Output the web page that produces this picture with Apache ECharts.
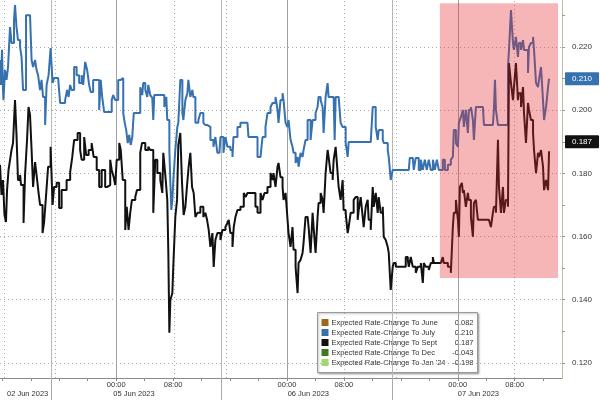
<!DOCTYPE html>
<html><head><meta charset="utf-8">
<script src="https://cdn.jsdelivr.net/npm/echarts@6/dist/echarts.min.js"></script>
<style>html,body{margin:0;padding:0;background:#fff}#c{width:600px;height:400px}</style>
</head><body><div id="c"></div>
<script>
// x values: hours on the compressed trading clock (02 Jun 00:00 = 0, 05 Jun 00:00 = 24, 06 Jun 00:00 = 48, 07 Jun 00:00 = 72)
const julySeries = [[7.67,.2159],[7.81,.2080],[7.95,.2191],[8.09,.2064],[8.16,.2032],[8.37,.2127],[8.59,.2096],[8.80,.2137],[9.08,.2263],[9.29,.2213],[9.64,.2286],[9.78,.2333],[9.99,.2263],[10.20,.2222],[10.49,.2200],[10.70,.2169],[10.91,.2064],[11.33,.2301],[11.89,.2301],[12.11,.2159],[12.32,.2137],[12.60,.2159],[12.81,.2127],[13.02,.2111],[13.30,.2064],[13.51,.2096],[13.72,.2042],[14.01,.1953],[14.22,.2080],[14.50,.2111],[14.78,.2197],[15.06,.2086],[15.27,.2102],[15.84,.2102],[16.12,.2023],[16.40,.2023],[16.82,.2032],[17.10,.2064],[17.31,.2042],[17.53,.2080],[17.74,.2064],[18.09,.2137],[18.44,.2111],[18.79,.2086],[19.15,.2111],[19.36,.2080],[19.64,.2153],[19.92,.2127],[20.20,.2080],[20.41,.2058],[20.76,.2096],[21.26,.2096],[21.61,.2001],[21.82,.2096],[22.03,.2042],[22.31,.1994],[23.02,.1994],[23.37,.2032],[23.58,.2048],[23.86,.2032],[24.28,.2096],[24.64,.2102],[24.99,.1991],[25.20,.1960],[25.41,.1937],[25.62,.1896],[25.83,.1922],[26.04,.1890],[26.26,.1915],[26.47,.1991],[26.96,.1985],[27.24,.1991],[27.38,.2073],[27.66,.2048],[27.80,.2086],[28.09,.2064],[28.37,.2042],[28.51,.2080],[28.79,.2048],[29.07,.2039],[29.21,.1969],[29.35,.2048],[30.20,.2048],[30.76,.2010],[31.04,.2042],[31.18,.1969],[31.47,.1874],[31.61,.1770],[31.75,.1684],[31.89,.1716],[32.03,.1779],[32.31,.1874],[32.59,.1947],[32.73,.1960],[33.01,.2096],[33.30,.1991],[33.44,.1969],[33.72,.2032],[34.00,.2054],[34.14,.2096],[34.42,.2042],[34.70,.2064],[34.84,.2042],[35.13,.1960],[35.55,.1969],[35.83,.1991],[36.25,.1960],[36.53,.1953],[36.82,.1947],[37.24,.1906],[37.66,.1884],[37.94,.1915],[38.22,.1865],[38.51,.1865],[38.65,.1915],[39.07,.1865],[39.35,.1915],[39.63,.1884],[40.05,.1874],[40.34,.1852],[40.48,.1915],[41.04,.1947],[41.46,.1960],[42.45,.1960],[42.59,.1915],[43.57,.1915],[43.86,.1852],[44.28,.1852],[44.56,.1915],[44.98,.1947],[45.26,.1991],[45.69,.2010],[45.97,.2023],[46.39,.2042],[46.67,.2001],[46.81,.1960],[47.09,.2032],[47.38,.2054],[47.52,.2032],[47.80,.1960],[48.08,.1947],[48.22,.1969],[48.50,.1906],[48.78,.1884],[48.92,.1865],[49.21,.1833],[49.49,.1852],[49.63,.1821],[49.91,.1865],[50.19,.1852],[50.33,.1874],[50.61,.1906],[50.90,.1969],[51.04,.1969],[51.32,.1906],[51.60,.1969],[51.74,.1969],[52.02,.1991],[52.30,.2010],[52.44,.2042],[52.73,.2032],[53.01,.2010],[53.15,.1928],[53.43,.2042],[53.71,.2086],[53.85,.2042],[54.56,.2042],[54.70,.1906],[54.84,.2042],[55.26,.2048],[55.54,.1960],[55.82,.1947],[56.25,.1896],[56.53,.1852],[56.67,.1899],[59.77,.1899],[60.05,.2010],[60.33,.2010],[60.47,.1947],[60.75,.1906],[60.89,.1937],[61.17,.1937],[61.46,.1906],[61.60,.1896],[62.16,.1874],[62.30,.1852],[62.58,.1779],[62.86,.1811],[65.12,.1811],[65.26,.1849],[65.68,.1849],[65.82,.1811],[66.10,.1849],[66.38,.1849],[66.52,.1811],[66.81,.1843],[67.09,.1811],[67.37,.1843],[67.65,.1811],[67.93,.1843],[68.21,.1811],[68.50,.1843],[68.78,.1811],[69.06,.1843],[69.34,.1811],[69.90,.1843],[70.19,.1811],[70.61,.1827],[71.03,.1843],[71.31,.1852],[71.45,.1937],[71.74,.1896],[72.02,.1884],[72.16,.1960],[72.44,.1978],[72.72,.2001],[72.86,.1947],[73.14,.2001],[73.42,.1928],[73.56,.2001],[73.85,.2010],[74.13,.1969],[74.27,.1906],[74.55,.2010],[75.54,.2010],[75.68,.1953],[76.94,.1953],[77.08,.2001],[77.23,.2096],[77.37,.2001],[77.65,.1953],[78.77,.1953],[79.06,.2137],[79.20,.2191],[79.48,.2317],[79.76,.2213],[79.90,.2191],[80.18,.2232],[80.46,.2169],[80.60,.2213],[80.89,.2191],[81.17,.2222],[81.31,.2191],[81.59,.2191],[81.87,.2118],[82.01,.2200],[82.29,.2213],[82.58,.2232],[82.72,.2191],[83.00,.2086],[83.28,.2073],[83.42,.2096],[83.70,.2137],[83.98,.2032],[84.13,.1969],[84.41,.2010],[84.69,.2073],[84.83,.2100]];

const septSeries = [[7.67,.1827],[7.88,.1732],[8.09,.1779],[8.30,.1668],[8.51,.1646],[8.66,.1747],[8.87,.1811],[9.08,.1843],[9.29,.1874],[9.50,.1896],[9.78,.2032],[9.99,.1922],[10.20,.1779],[10.49,.1795],[10.63,.1763],[10.98,.1643],[11.19,.1795],[11.47,.1906],[11.68,.2010],[11.89,.1985],[12.11,.1874],[12.32,.1757],[12.60,.1836],[12.81,.1795],[13.09,.1738],[13.30,.1700],[13.65,.1611],[13.87,.1646],[14.15,.1732],[14.43,.1821],[14.78,.1884],[15.06,.1700],[15.27,.1757],[15.63,.1770],[15.98,.1690],[16.33,.1747],[16.61,.1747],[17.03,.1779],[17.53,.1804],[17.81,.1849],[18.09,.1906],[18.58,.1928],[18.93,.1874],[19.15,.1843],[19.50,.1915],[19.78,.1858],[20.13,.1874],[20.55,.1896],[20.83,.1852],[21.26,.1811],[21.61,.1757],[21.96,.1811],[22.45,.1757],[22.74,.1763],[23.16,.1843],[23.37,.1811],[23.65,.1788],[23.86,.1763],[24.07,.1843],[24.43,.1896],[24.64,.1874],[24.92,.1779],[25.27,.1621],[25.48,.1694],[25.74,.1621],[25.97,.1675],[26.21,.1716],[26.68,.1725],[26.92,.1747],[27.38,.1865],[27.62,.1896],[28.09,.1874],[28.51,.1884],[28.79,.1874],[29.21,.1675],[29.49,.1843],[29.78,.1801],[30.20,.1779],[30.48,.1738],[30.62,.1865],[30.90,.1795],[31.18,.1716],[31.32,.1558],[31.47,.1295],[31.61,.1399],[31.89,.1421],[32.03,.1510],[32.31,.1662],[32.55,.1716],[32.73,.1890],[33.01,.1928],[33.25,.1770],[33.48,.1668],[33.72,.1694],[33.96,.1763],[34.18,.1821],[34.42,.1865],[34.66,.1757],[34.89,.1738],[35.13,.1662],[35.41,.1675],[35.83,.1694],[36.25,.1662],[36.53,.1675],[36.77,.1653],[37.00,.1621],[37.24,.1567],[37.52,.1611],[37.70,.1504],[37.94,.1589],[38.22,.1611],[38.65,.1589],[38.93,.1621],[39.35,.1630],[39.63,.1643],[39.81,.1653],[40.05,.1611],[40.34,.1567],[40.52,.1630],[40.76,.1662],[41.04,.1684],[41.46,.1694],[41.93,.1738],[42.17,.1725],[42.45,.1738],[42.87,.1738],[43.57,.1694],[43.86,.1675],[44.28,.1738],[44.56,.1716],[44.84,.1738],[45.26,.1757],[45.69,.1801],[45.97,.1779],[46.11,.1801],[46.39,.1757],[46.67,.1821],[46.81,.1833],[47.09,.1788],[47.38,.1757],[47.52,.1716],[47.80,.1738],[48.08,.1653],[48.22,.1611],[48.50,.1567],[48.78,.1630],[48.92,.1558],[49.21,.1504],[49.49,.1421],[49.63,.1516],[49.91,.1526],[50.19,.1548],[50.33,.1580],[50.61,.1662],[50.90,.1662],[51.04,.1630],[51.32,.1548],[51.60,.1675],[51.74,.1630],[52.02,.1548],[52.30,.1662],[52.44,.1706],[52.73,.1738],[53.01,.1716],[53.15,.1675],[53.43,.1801],[53.71,.1874],[53.85,.1852],[54.13,.1801],[54.42,.1779],[54.56,.1843],[54.84,.1884],[55.12,.1801],[55.26,.1757],[55.54,.1716],[55.82,.1779],[55.96,.1684],[56.25,.1675],[56.53,.1611],[56.67,.1630],[56.95,.1675],[57.23,.1675],[57.37,.1716],[57.65,.1725],[57.94,.1653],[58.08,.1684],[58.36,.1725],[58.64,.1662],[58.78,.1630],[59.06,.1694],[59.34,.1716],[59.48,.1653],[59.77,.1621],[60.05,.1757],[60.19,.1694],[60.47,.1738],[60.75,.1675],[60.89,.1725],[61.17,.1675],[61.46,.1694],[61.60,.1599],[61.88,.1589],[62.16,.1567],[62.30,.1548],[62.58,.1431],[62.86,.1504],[63.00,.1516],[63.29,.1504],[64.27,.1504],[64.69,.1535],[64.98,.1526],[65.12,.1504],[65.40,.1535],[65.68,.1504],[66.10,.1485],[66.38,.1504],[66.81,.1516],[67.09,.1453],[67.23,.1516],[67.51,.1504],[67.93,.1494],[68.21,.1516],[68.50,.1535],[68.64,.1516],[69.20,.1516],[69.62,.1516],[69.90,.1535],[70.04,.1516],[70.61,.1504],[71.03,.1485],[71.31,.1630],[71.45,.1675],[71.74,.1716],[72.02,.1653],[72.16,.1599],[72.30,.1757],[72.58,.1770],[72.72,.1738],[72.86,.1747],[73.14,.1694],[73.42,.1738],[73.56,.1716],[73.85,.1662],[74.13,.1599],[74.27,.1706],[74.55,.1716],[74.83,.1653],[76.38,.1653],[76.66,.1630],[76.94,.1675],[77.08,.1694],[77.37,.1675],[77.65,.1906],[77.79,.1757],[78.07,.1675],[78.35,.1757],[78.49,.1675],[78.77,.1716],[79.06,.1694],[79.20,.2149],[79.48,.2086],[79.76,.2032],[79.90,.2073],[80.18,.2149],[80.46,.2032],[80.60,.2054],[80.89,.2010],[81.17,.2073],[81.31,.1991],[81.59,.1896],[81.87,.2023],[82.01,.2001],[82.29,.1969],[82.58,.1928],[82.72,.1874],[83.00,.1801],[83.28,.1865],[83.42,.1852],[83.70,.1874],[83.98,.1821],[84.13,.1747],[84.41,.1779],[84.69,.1747],[84.83,.1870]];

const legendNames = ['Expected Rate-Change To June','Expected Rate-Change To July','Expected Rate-Change To Sept','Expected Rate-Change To Dec',"Expected Rate-Change To Jan '24"];
const legendValues = [0.082, 0.210, 0.187, -0.043, -0.198];
const legendColors = ['#9a6a1c','#3a6fa8','#111111','#3e7b1f','#a5d86a'];

const yLabelValues = [0.12, 0.14, 0.16, 0.18, 0.20, 0.22];
const yTickValues = [0.12,0.13,0.14,0.15,0.16,0.17,0.18,0.19,0.20,0.21,0.22,0.23];
const hourTicks = [8,12,16,20,24,28,32,36,40,44,48,52,56,60,64,68,72,76,80,84];
const timeLabelHours = [24, 32, 48, 56, 72, 80];
const timeLabels = ['00:00','08:00','00:00','08:00','00:00','08:00'];
const dayLabelHours = [8.65, 23.6, 48.1, 72.0];
const dayLabels = ['02 Jun 2023','05 Jun 2023','06 Jun 2023','07 Jun 2023'];
const dividerHours = [14.85, 38.8, 62.75];
const midnightHours = [24, 48, 72];
const dottedHours = [8.2, 15.4, 32.2, 39.5, 56.1, 63.3, 80.0];
const shadedSpan = {from: 69.48, to: 86.09, top: 0.2339, bottom: 0.1469};

const xMin = 7.67, xMax = 86.65, yMin = 0.1152, yMax = 0.2349;
const FONT = '"Liberation Sans", Arial, sans-serif';
const BLUE = '#3671b0', BLACK = '#111111';

const gridLines = [];
yLabelValues.forEach(v => gridLines.push({yAxis: v, lineStyle: {type: [1, 3], color: '#aaaaaa', width: 1}}));
dottedHours.forEach(h => gridLines.push({xAxis: h, lineStyle: {type: [1, 3], color: '#aaaaaa', width: 1}}));
dividerHours.forEach(h => gridLines.push({xAxis: h, lineStyle: {type: 'solid', color: '#b8b8b8', width: 1}}));
midnightHours.forEach(h => gridLines.push({xAxis: h, lineStyle: {type: 'solid', color: '#a0a0a0', width: 1}}));

function badge(val, color) {
  return {
    z: 12, symbol: ['none', 'none'], silent: true, animation: false,
    lineStyle: {color: 'rgba(0,0,0,0)', width: 0, type: 'solid'},
    label: {show: true, position: 'end', distance: 3, formatter: () => val.toFixed(3),
      backgroundColor: color, color: '#fff', fontSize: 8, fontFamily: FONT,
      padding: [3, 7, 2, 7], borderRadius: 1},
    emphasis: {disabled: true},
    data: [{yAxis: val}]
  };
}

const julyLast = julySeries[julySeries.length - 1][1];
const septLast = septSeries[septSeries.length - 1][1];

const legendGroup = {type: 'group', left: 317, top: 312, z: 20, children: [
  {type: 'rect', shape: {x: 0, y: 0, width: 160, height: 60},
   style: {fill: '#fff', stroke: '#9a9a9a', lineWidth: 1, shadowBlur: 2, shadowColor: 'rgba(0,0,0,0.3)', shadowOffsetX: 1, shadowOffsetY: 1}}
]};
legendNames.forEach((n, i) => {
  const cy = 10 + 10 * i;
  legendGroup.children.push({type: 'rect', shape: {x: 4, y: cy - 3.5, width: 7, height: 7}, style: {fill: legendColors[i]}});
  legendGroup.children.push({type: 'text', x: 14, y: cy, style: {text: n, fill: '#333', font: '7.5px ' + FONT, verticalAlign: 'middle', align: 'left'}});
  legendGroup.children.push({type: 'text', x: 156, y: cy, style: {text: legendValues[i].toFixed(3), fill: '#333', font: '7.5px ' + FONT, verticalAlign: 'middle', align: 'right'}});
});

const chart = echarts.init(document.getElementById('c'), null, {renderer: 'canvas'});
chart.setOption({
  animation: false,
  backgroundColor: '#fff',
  grid: {left: 0, right: 38, top: 0, bottom: 22, containLabel: false, outerBoundsMode: 'none'},
  xAxis: [{
    type: 'value', min: xMin, max: xMax, position: 'bottom',
    axisLine: {show: true, lineStyle: {color: '#8c8c8c', width: 1}},
    axisTick: {show: true, customValues: hourTicks, length: 3, lineStyle: {color: '#8c8c8c'}},
    axisLabel: {customValues: timeLabelHours, margin: 3, fontSize: 7.5, color: '#333', fontFamily: FONT,
      formatter: v => { const i = timeLabelHours.findIndex(t => Math.abs(t - v) < 1e-6); return i >= 0 ? timeLabels[i] : ''; }},
    splitLine: {show: false}
  }, {
    type: 'value', min: xMin, max: xMax, position: 'bottom',
    axisLine: {show: false},
    axisTick: {show: true, customValues: dividerHours, length: 22, lineStyle: {color: '#a8a8a8'}},
    axisLabel: {customValues: dayLabelHours, margin: 12, fontSize: 7.5, color: '#333', fontFamily: FONT, align: 'left',
      showMinLabel: true, showMaxLabel: true,
      formatter: v => { const i = dayLabelHours.findIndex(t => Math.abs(t - v) < 1e-6); return i >= 0 ? dayLabels[i] : ''; }},
    splitLine: {show: false}
  }],
  yAxis: {
    type: 'value', position: 'right', min: yMin, max: yMax,
    axisLine: {show: true, lineStyle: {color: '#bdbda5'}},
    axisTick: {show: true, customValues: yTickValues, length: 3, lineStyle: {color: '#999'}},
    axisLabel: {customValues: yLabelValues, formatter: v => v.toFixed(3), fontSize: 8, color: '#333', margin: 10, fontFamily: FONT},
    splitLine: {show: false}
  },
  series: [
    {type: 'line', data: [], z: 1, silent: true,
     markLine: {z: 1, symbol: ['none', 'none'], silent: true, animation: false, label: {show: false}, data: gridLines}},
    {name: 'July', type: 'line', step: 'end', data: julySeries, showSymbol: false, z: 3,
     lineStyle: {color: BLUE, width: 2}, itemStyle: {color: BLUE}, markLine: badge(julyLast, BLUE)},
    {name: 'Sept', type: 'line', step: 'end', data: septSeries, showSymbol: false, z: 4,
     lineStyle: {color: BLACK, width: 2}, itemStyle: {color: BLACK}, markLine: badge(septLast, BLACK)},
    {type: 'line', data: [], z: 10, silent: true,
     markArea: {z: 10, silent: true, itemStyle: {color: 'rgba(228,42,48,0.34)'},
       data: [[{xAxis: shadedSpan.from, yAxis: shadedSpan.top}, {xAxis: shadedSpan.to, yAxis: shadedSpan.bottom}]]}}
  ],
  graphic: [legendGroup]
});
</script>
</body></html>
